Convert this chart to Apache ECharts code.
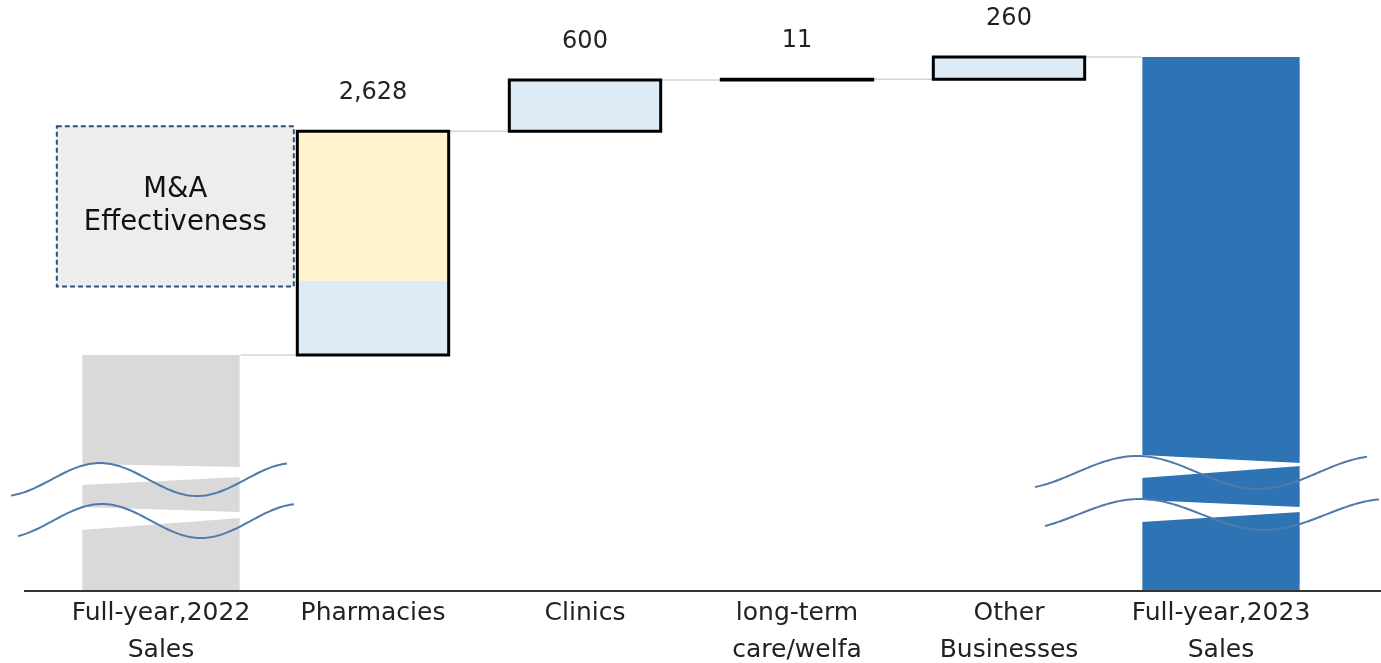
<!DOCTYPE html>
<html>
<head>
<meta charset="utf-8">
<script src="https://cdn.jsdelivr.net/npm/echarts/dist/echarts.min.js"></script>
<style>
  html, body { margin: 0; padding: 0; background: #ffffff; }
  #chart { width: 1381px; height: 663px; }
</style>
</head>
<body>
<div id="chart"></div>
<script>
// ---- Data ----------------------------------------------------------------
const categories = ['Full-year,2022\nSales', 'Pharmacies', 'Clinics', 'long-term\ncare/welfa', 'Other\nBusinesses', 'Full-year,2023\nSales'];
const sales2022 = 28000;                  // base total (value axis is broken below it)
const increments = [2628, 600, 11, 260];  // Pharmacies, Clinics, long-term care, Other
const valueLabels = ['2,628', '600', '11', '260'];
const pharmacyOrganic = 876;              // existing stores
const pharmacyMA = 1752;                  // contribution from acquisitions
const maLabel = 'M&A\nEffectiveness';

// ---- Derived waterfall levels -------------------------------------------
const cumulative = [sales2022];
increments.forEach(v => cumulative.push(cumulative[cumulative.length - 1] + v));
const sales2023 = cumulative[cumulative.length - 1];

const AXIS_MIN = 25230;
const FONT = '"DejaVu Sans", Verdana, sans-serif';
const TEXT = '#222222';
const COLORS = { base: '#d9d9d9', total: '#2e73b3', step: '#ddebf7', ma: '#fff2cc', edge: '#000000' };

// [category index, low, high, organic part of step (0 = none)]
const barData = [[0, AXIS_MIN, sales2022, 0]];
increments.forEach((v, i) => {
  barData.push([i + 1, cumulative[i], cumulative[i + 1], i === 0 ? pharmacyOrganic : 0]);
});
barData.push([5, AXIS_MIN, sales2023, 0]);

// connectors: [from category, level]
const connectorData = cumulative.map((v, i) => [i, v]);

// axis-break decoration for the two off-scale totals (offsets in px from bar centre / axis line)
const breakShapes = {
  0: {
    waves: [
      { x0: -150, x1: 126, peak: -61, half: 97, yc: -111.5, amp: 16.5 },
      { x0: -143, x1: 133, peak: -59, half: 99, yc: -70, amp: 17 }
    ],
    gaps: [[-127, -124, -114, -106], [-84, -79, -73, -61]]
  },
  5: {
    waves: [
      { x0: -186, x1: 147, peak: -84, half: 121, yc: -118.5, amp: 16.5 },
      { x0: -176, x1: 158, peak: -81, half: 124, yc: -76.5, amp: 15.5 }
    ],
    gaps: [[-136, -128, -125, -113], [-91, -84, -79, -69]]
  }
};

const chart = echarts.init(document.getElementById('chart'), null, { renderer: 'canvas' });
const GRID = { left: 55, right: 54, top: 57, bottom: 72, outerBoundsMode: 'none', containLabel: false };

function renderBar(params, api) {
  const idx = api.value(0), lo = api.value(1), hi = api.value(2), organic = api.value(3);
  const band = api.size([1, 0])[0];
  const pLo = api.coord([idx, lo]);
  const pHi = api.coord([idx, hi]);
  const cx = pLo[0];
  const children = [];
  const isTotal = idx === 0 || idx === 5;
  if (isTotal) {
    const w = band * 0.742;
    children.push({
      type: 'rect',
      shape: { x: cx - w / 2, y: pHi[1], width: w, height: pLo[1] - pHi[1] },
      style: { fill: idx === 0 ? COLORS.base : COLORS.total }
    });
  } else {
    const w = band * 0.714;
    const x = cx - w / 2;
    if (organic > 0) {
      const pSplit = api.coord([idx, lo + organic]);
      children.push({ type: 'rect', shape: { x, y: pSplit[1], width: w, height: pLo[1] - pSplit[1] }, style: { fill: COLORS.step } });
      children.push({ type: 'rect', shape: { x, y: pHi[1], width: w, height: pSplit[1] - pHi[1] }, style: { fill: COLORS.ma } });
      // M&A callout box beside the acquired portion
      const boxW = 237, boxR = x - 3.5;
      const boxTop = pHi[1] - 5, boxBot = pSplit[1] + 6;
      children.push({
        type: 'rect',
        shape: { x: boxR - boxW, y: boxTop, width: boxW, height: boxBot - boxTop },
        style: { fill: '#ededed', stroke: '#2b5080', lineWidth: 2, lineDash: [5, 3] }
      });
      children.push({
        type: 'text',
        style: {
          text: maLabel, x: boxR - boxW / 2, y: (boxTop + boxBot) / 2,
          align: 'center', verticalAlign: 'middle',
          fontSize: 27.5, fontFamily: FONT, lineHeight: 33, fill: '#111111'
        }
      });
    } else {
      children.push({ type: 'rect', shape: { x, y: pHi[1], width: w, height: pLo[1] - pHi[1] }, style: { fill: COLORS.step } });
    }
    children.push({
      type: 'rect',
      shape: { x, y: pHi[1], width: w, height: pLo[1] - pHi[1] },
      style: { fill: null, stroke: COLORS.edge, lineWidth: 3 }
    });
    children.push({
      type: 'text',
      style: {
        text: valueLabels[idx - 1], x: cx, y: pHi[1] - 38,
        align: 'center', verticalAlign: 'middle',
        fontSize: 24, fontFamily: FONT, fill: TEXT
      }
    });
  }
  return { type: 'group', children };
}

function renderConnector(params, api) {
  const i = api.value(0), v = api.value(1);
  const band = api.size([1, 0])[0];
  const a = api.coord([i, v]);
  const b = api.coord([i + 1, v]);
  const halfA = band * (i === 0 ? 0.742 : 0.714) / 2 + 1;
  const halfB = band * (i + 1 === 5 ? 0.742 : 0.714) / 2 + 1;
  return {
    type: 'line',
    shape: { x1: a[0] + halfA, y1: a[1], x2: b[0] - halfB, y2: b[1] },
    style: { stroke: '#d4d4d4', lineWidth: 1.5 }
  };
}

function renderBreak(params, api) {
  const idx = api.value(0);
  const cfg = breakShapes[idx];
  const band = api.size([1, 0])[0];
  const base = api.coord([idx, AXIS_MIN]);
  const cx = base[0], ay = base[1];
  const w = band * 0.742;
  const l = cx - w / 2 - 1, r = cx + w / 2 + 1;
  const children = [];
  cfg.gaps.forEach(g => {
    children.push({
      type: 'polygon',
      shape: { points: [[l, ay + g[0]], [r, ay + g[1]], [r, ay + g[2]], [l, ay + g[3]]] },
      style: { fill: '#ffffff' }
    });
  });
  cfg.waves.forEach(wv => {
    const pts = [];
    for (let dx = wv.x0; dx <= wv.x1; dx += 2) {
      pts.push([cx + dx, ay + wv.yc - wv.amp * Math.cos(Math.PI * (dx - wv.peak) / wv.half)]);
    }
    children.push({
      type: 'polyline',
      shape: { points: pts },
      style: { stroke: '#4f7bab', lineWidth: 2, fill: null }
    });
  });
  return { type: 'group', children };
}

chart.setOption({
  animation: false,
  backgroundColor: '#ffffff',
  grid: GRID,
  xAxis: {
    type: 'category',
    data: categories,
    axisLine: { show: false },
    axisTick: { show: false },
    axisLabel: { interval: 0, margin: 4, fontSize: 25, lineHeight: 37, fontFamily: FONT, color: TEXT }
  },
  yAxis: { type: 'value', min: AXIS_MIN, max: sales2023, show: false, splitLine: { show: false } },
  series: [
    { type: 'custom', name: 'connectors', z: 1, renderItem: renderConnector, encode: { x: 0, y: 1 }, data: connectorData, silent: true },
    { type: 'custom', name: 'bars', z: 2, renderItem: renderBar, encode: { x: 0, y: [1, 2] }, data: barData },
    { type: 'custom', name: 'breaks', z: 3, renderItem: renderBreak, encode: { x: 0 }, data: [[0], [5]], silent: true }
  ],
  graphic: [{
    type: 'line', z: 10,
    shape: { x1: 24, y1: 663 - GRID.bottom, x2: 1381, y2: 663 - GRID.bottom },
    style: { stroke: '#333333', lineWidth: 2 }
  }]
});
</script>
</body>
</html>
